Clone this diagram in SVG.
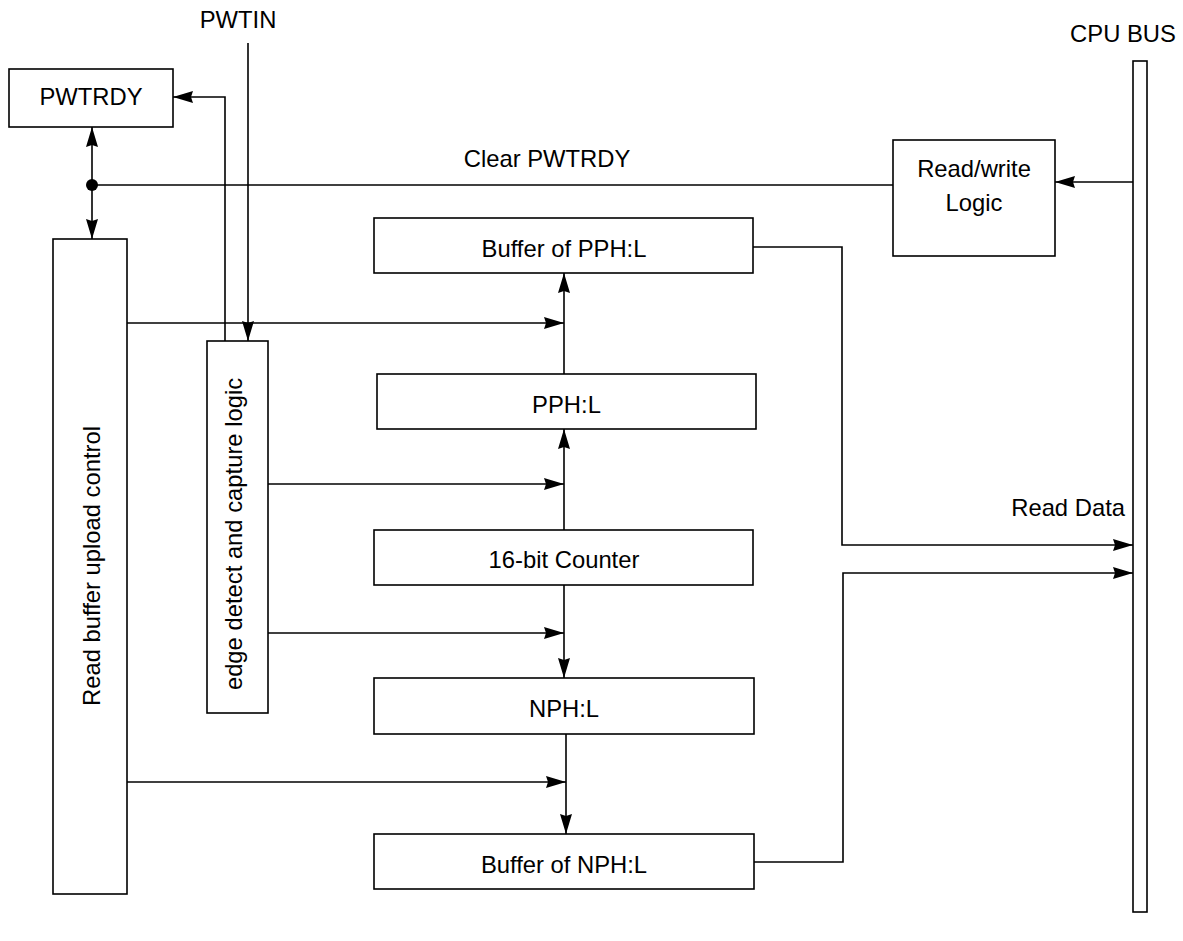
<svg xmlns="http://www.w3.org/2000/svg" width="1183" height="941" viewBox="0 0 1183 941">
<defs>
<marker id="arr" markerUnits="userSpaceOnUse" markerWidth="24" markerHeight="14" refX="20" refY="6" orient="auto-start-reverse">
<path d="M0,0 L20,6 L0,12 L2,6 Z" fill="#000"/>
</marker>
</defs>
<style>
.box{fill:#fff;stroke:#000;stroke-width:1.6}
.ln{fill:none;stroke:#000;stroke-width:1.6}
.t{font-family:"Liberation Sans",Arial,sans-serif;font-size:23.8px;fill:#000}
.c{text-anchor:middle}
</style>
<rect width="1183" height="941" fill="#fff"/>
<g id="connectors">
<line class="ln" x1="248" y1="43" x2="248" y2="341" marker-end="url(#arr)"/>
<polyline class="ln" points="225,341 225,97 173,97" marker-end="url(#arr)"/>
<line class="ln" x1="92" y1="127" x2="92" y2="239" marker-start="url(#arr)" marker-end="url(#arr)"/>
<circle cx="92" cy="185" r="6" fill="#000"/>
<line class="ln" x1="92" y1="185" x2="893" y2="185"/>
<line class="ln" x1="1138" y1="182" x2="1055" y2="182" marker-end="url(#arr)"/>
<polyline class="ln" points="753,247 842,247 842,545 1133,545" marker-end="url(#arr)"/>
<polyline class="ln" points="754,862 843,862 843,573 1133,573" marker-end="url(#arr)"/>
<line class="ln" x1="127" y1="323" x2="564" y2="323" marker-end="url(#arr)"/>
<line class="ln" x1="564" y1="374" x2="564" y2="273" marker-end="url(#arr)"/>
<line class="ln" x1="268" y1="484" x2="564" y2="484" marker-end="url(#arr)"/>
<line class="ln" x1="564" y1="530" x2="564" y2="429" marker-end="url(#arr)"/>
<line class="ln" x1="268" y1="633" x2="564" y2="633" marker-end="url(#arr)"/>
<line class="ln" x1="564" y1="585" x2="564" y2="678" marker-end="url(#arr)"/>
<line class="ln" x1="127" y1="782" x2="566" y2="782" marker-end="url(#arr)"/>
<line class="ln" x1="566" y1="734" x2="566" y2="834" marker-end="url(#arr)"/>
</g>
<g id="pwtin-label"><text class="t c" x="238" y="28">PWTIN</text></g>
<g id="clear-label"><text class="t c" x="547" y="167">Clear PWTRDY</text></g>
<g id="readdata-label"><text class="t" x="1125" y="516" text-anchor="end">Read Data</text></g>
<g id="pwtrdy"><rect class="box" x="9" y="69" width="164" height="58"/><text class="t c" x="91" y="105">PWTRDY</text></g>
<g id="rwlogic"><rect class="box" x="893" y="140" width="162" height="116"/><text class="t c" x="974" y="177">Read/write</text><text class="t c" x="974" y="211">Logic</text></g>
<g id="cpubus"><rect class="box" x="1133" y="61" width="14" height="851"/><text class="t c" x="1123" y="42">CPU BUS</text></g>
<g id="readbuf"><rect class="box" x="53" y="239" width="74" height="655"/><text class="t c" transform="translate(100,566) rotate(-90)">Read buffer upload control</text></g>
<g id="edge"><rect class="box" x="207" y="341" width="61" height="372"/><text class="t c" transform="translate(242,534) rotate(-90)">edge detect and capture logic</text></g>
<g id="bufpph"><rect class="box" x="374" y="218" width="379" height="55"/><text class="t c" x="564" y="257">Buffer of PPH:L</text></g>
<g id="pph"><rect class="box" x="377" y="374" width="379" height="55"/><text class="t c" x="566.5" y="413">PPH:L</text></g>
<g id="counter"><rect class="box" x="374" y="530" width="379" height="55"/><text class="t c" x="564" y="568">16-bit Counter</text></g>
<g id="nph"><rect class="box" x="374" y="678" width="380" height="56"/><text class="t c" x="564" y="717">NPH:L</text></g>
<g id="bufnph"><rect class="box" x="374" y="834" width="380" height="55"/><text class="t c" x="564" y="873">Buffer of NPH:L</text></g>
</svg>
